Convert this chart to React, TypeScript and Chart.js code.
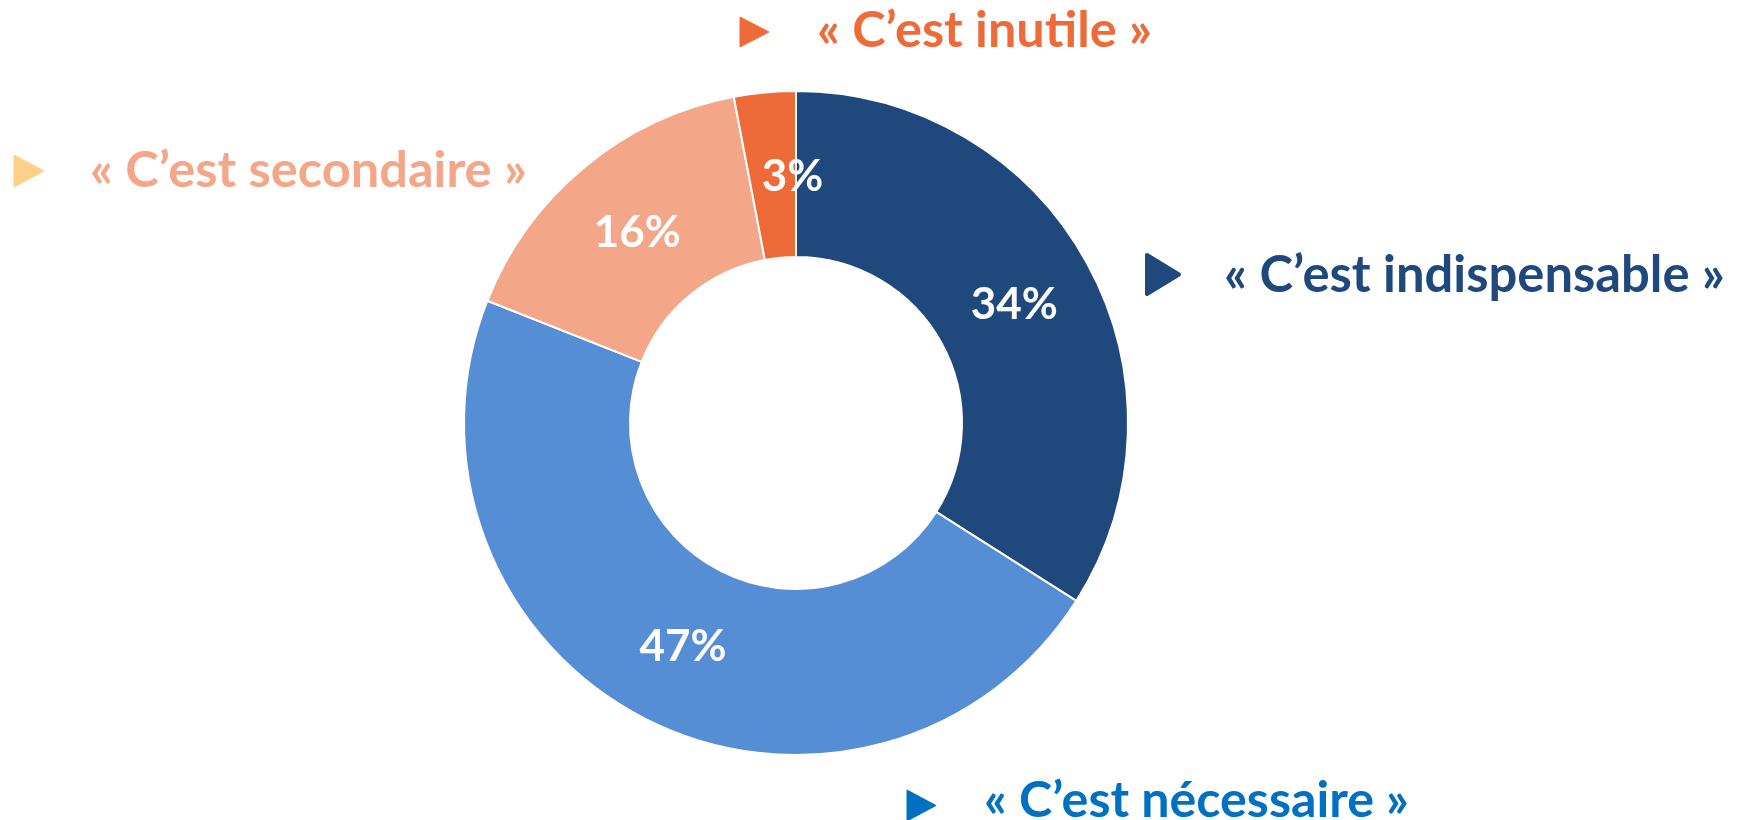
import React, { useEffect, useRef } from "react";
import { Chart, registerables } from "chart.js";

Chart.register(...registerables);

const categories = [
  "« C’est indispensable »",
  "« C’est nécessaire »",
  "« C’est secondaire »",
  "« C’est inutile »",
];
const values = [34, 47, 16, 3];
const sliceColors = ["#1F497D", "#558ED5", "#F4A688", "#EF6A39"];
const textColors = ["#1F497D", "#0070C0", "#F4A688", "#EF6A39"];
const arrowColors = ["#1F497D", "#0070C0", "#FFD08A", "#EF6A39"];

// layout of the outside callouts (arrow box + text box), per category
const callouts = [
  { ax: 1145, ay: 253, aw: 36, ah: 43, tx: 1224, tw: 501, base: 292 },
  { ax: 907, ay: 790, aw: 29, ah: 31, tx: 984, tw: 425, base: 817 },
  { ax: 14, ay: 155, aw: 30, ah: 32, tx: 90, tw: 437, base: 187 },
  { ax: 740, ay: 17, aw: 29, ah: 30, tx: 817, tw: 335, base: 47 },
];
const pctOffsets = [0, 0, 0, 20];

const FONT = "Lato, 'Open Sans', 'Noto Sans', sans-serif";

const labelPlugin = {
  id: "labelPlugin",
  afterDatasetsDraw(chart: any) {
    const ctx = chart.ctx;
    const meta = chart.getDatasetMeta(0);
    ctx.save();
    // percent labels
    ctx.fillStyle = "#FFFFFF";
    ctx.textAlign = "center";
    ctx.textBaseline = "middle";
    ctx.font = `bold 44px ${FONT}`;
    meta.data.forEach((arc: any, i: number) => {
      const p = arc.tooltipPosition(false);
      ctx.fillText(`${values[i]}%`, p.x + pctOffsets[i], p.y + 2);
    });
    // callouts
    categories.forEach((label, i) => {
      const c = callouts[i];
      ctx.fillStyle = arrowColors[i];
      ctx.strokeStyle = arrowColors[i];
      ctx.lineJoin = "round";
      ctx.lineWidth = i === 0 ? 4 : 1;
      ctx.beginPath();
      const inset = i === 0 ? 2 : 0;
      ctx.moveTo(c.ax + inset, c.ay + inset);
      ctx.lineTo(c.ax + c.aw - inset, c.ay + c.ah / 2);
      ctx.lineTo(c.ax + inset, c.ay + c.ah - inset);
      ctx.closePath();
      ctx.fill();
      ctx.stroke();

      ctx.fillStyle = textColors[i];
      ctx.textAlign = "left";
      ctx.textBaseline = "alphabetic";
      let size = 50;
      ctx.font = `bold ${size}px ${FONT}`;
      const w = ctx.measureText(label).width;
      size = size * (c.tw / w);
      ctx.font = `bold ${size}px ${FONT}`;
      ctx.fillText(label, c.tx, c.base);
    });
    ctx.restore();
  },
};

export default function App() {
  const ref = useRef<HTMLCanvasElement | null>(null);
  useEffect(() => {
    if (!ref.current) return;
    const chart = new Chart(ref.current, {
      type: "doughnut",
      data: {
        labels: categories,
        datasets: [
          {
            data: values,
            backgroundColor: sliceColors,
            borderColor: "#FFFFFF",
            borderWidth: 2,
          },
        ],
      },
      options: {
        responsive: false,
        animation: false,
        cutout: "50%",
        layout: { padding: { top: 90, bottom: 64, left: 463, right: 615 } },
        plugins: {
          legend: { display: false },
          tooltip: { enabled: false },
        },
      },
      plugins: [labelPlugin],
    });
    return () => chart.destroy();
  }, []);
  return (
    <div style={{ position: "fixed", left: 0, top: 0, width: 1744, height: 820, background: "#fff" }}>
      <canvas ref={ref} width={1744} height={820} style={{ width: 1744, height: 820 }} />
    </div>
  );
}
